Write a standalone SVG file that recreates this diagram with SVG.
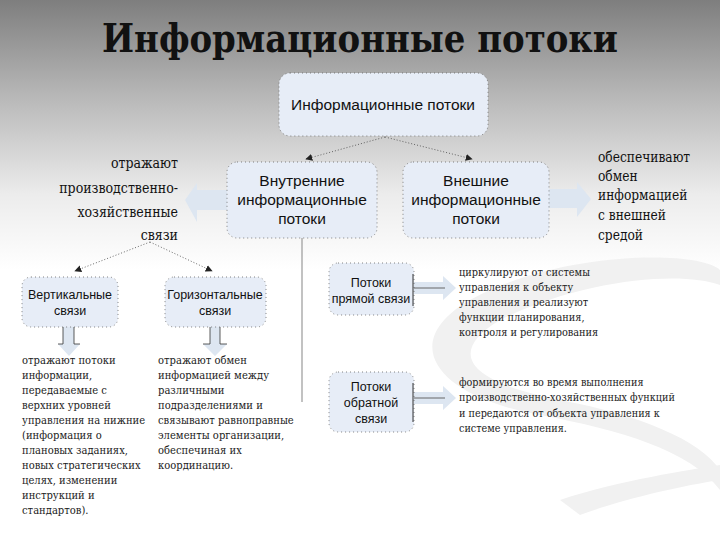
<svg xmlns="http://www.w3.org/2000/svg" width="720" height="540" viewBox="0 0 720 540">
<defs>
<linearGradient id="bg" x1="0" y1="0" x2="0" y2="1">
<stop offset="0" stop-color="#7e7e7e"/>
<stop offset="0.18" stop-color="#b8b8b8"/>
<stop offset="0.36" stop-color="#ececec"/>
<stop offset="0.5" stop-color="#ffffff"/>
<stop offset="1" stop-color="#ffffff"/>
</linearGradient>
<marker id="ah" viewBox="0 0 10 10" refX="9" refY="5" markerWidth="7" markerHeight="7" orient="auto" markerUnits="userSpaceOnUse">
<path d="M0,0 L10,5 L0,10 z" fill="#222"/>
</marker>
<style>
.box{fill:#e7edf7;stroke:#666;stroke-width:0.8;stroke-dasharray:1 3}
.bt{font-family:"Liberation Sans",Arial,sans-serif;fill:#111;text-anchor:middle}
.st{font-family:"DejaVu Serif",serif;fill:#222;font-size:11.5px}
.lt{font-family:"DejaVu Serif",serif;fill:#111;font-size:14px}
.dot{fill:none;stroke:#444;stroke-width:0.8;stroke-dasharray:1 2}
.blk{fill:#dde6f1}
.ln{stroke:#333;stroke-width:0.8;fill:none}
</style>
</defs>
<rect x="0" y="0" width="720" height="540" fill="url(#bg)"/>
<g id="decor" fill="#f1f1f1">
<path d="M470,300 C560,250 700,250 720,270 L720,285 C680,270 580,280 500,320 C450,350 460,380 560,400 C640,415 700,440 720,470 L720,490 C690,450 620,430 540,415 C430,395 400,340 470,300 z"/>
<path d="M560,500 C620,480 690,470 720,465 L720,480 C680,486 620,500 580,515 z"/>
</g>
<text x="360" y="52" text-anchor="middle" font-family="'DejaVu Serif',serif" font-weight="bold" font-size="40" fill="#111" textLength="516" lengthAdjust="spacingAndGlyphs">Информационные потоки</text>
<g id="connectors">
<line class="dot" x1="385" y1="137" x2="306" y2="159" marker-end="url(#ah)"/>
<line class="dot" x1="385" y1="137" x2="472" y2="159" marker-end="url(#ah)"/>
<line class="dot" x1="150" y1="242" x2="75" y2="271" marker-end="url(#ah)"/>
<line class="dot" x1="150" y1="242" x2="212" y2="271" marker-end="url(#ah)"/>
<line x1="302" y1="238" x2="302" y2="402" stroke="#999" stroke-width="1.2"/>
<path class="blk" d="M227,190 L197,190 L197,183 L185,200 L197,222 L197,210 L227,210 z"/>
<path class="blk" d="M549,189 L577,189 L577,182 L591,199 L577,217 L577,208 L549,208 z"/>
<path class="blk" d="M63,327 L74,327 L74,344 L80,344 L69,356 L58,344 L63,344 z"/>
<path class="ln" d="M63,327 L63,344 L58,344 M74,327 L74,344 L80,344"/>
<path class="blk" d="M210,327 L220,327 L220,344 L227,344 L215,356 L203,344 L210,344 z"/>
<path class="ln" d="M210,327 L210,344 L203,344 M220,327 L220,344 L227,344"/>
<path class="blk" d="M414,282 L443,282 L443,276 L456,288 L443,300 L443,294 L414,294 z"/>
<line x1="414" y1="288" x2="445" y2="288" stroke="#666" stroke-width="1"/>
<path class="blk" d="M414,392 L443,392 L443,386 L456,398 L443,410 L443,404 L414,404 z"/>
<line x1="414" y1="398" x2="445" y2="398" stroke="#666" stroke-width="1"/>
</g>
<g id="n-main">
<rect class="box" x="279" y="73" width="209" height="63" rx="11"/>
<text class="bt" x="383" y="110" font-size="15.5">Информационные потоки</text>
</g>
<g id="n-internal">
<rect class="box" x="227" y="162" width="150" height="76" rx="10"/>
<text class="bt" x="302" y="186" font-size="15.5">Внутренние</text>
<text class="bt" x="302" y="205" font-size="15.5">информационные</text>
<text class="bt" x="302" y="224" font-size="15.5">потоки</text>
</g>
<g id="n-external">
<rect class="box" x="403" y="162" width="146" height="76" rx="10"/>
<text class="bt" x="476" y="186" font-size="15.5">Внешние</text>
<text class="bt" x="476" y="205" font-size="15.5">информационные</text>
<text class="bt" x="476" y="224" font-size="15.5">потоки</text>
</g>
<g id="n-vertical">
<rect class="box" x="22" y="277" width="96" height="50" rx="9"/>
<text class="bt" x="70" y="299" font-size="12.5">Вертикальные</text>
<text class="bt" x="70" y="315" font-size="12.5">связи</text>
</g>
<g id="n-horizontal">
<rect class="box" x="165" y="277" width="101" height="50" rx="9"/>
<text class="bt" x="215" y="299" font-size="12.5">Горизонтальные</text>
<text class="bt" x="215" y="315" font-size="12.5">связи</text>
</g>
<g id="n-direct">
<rect class="box" x="329" y="263" width="85" height="52" rx="9"/>
<line x1="413" y1="274" x2="413" y2="306" stroke="#333" stroke-width="1"/>
<text class="bt" x="371" y="287" font-size="12.5">Потоки</text>
<text class="bt" x="371" y="303" font-size="12.5">прямой связи</text>
</g>
<g id="n-feedback">
<rect class="box" x="329" y="372" width="85" height="60" rx="9"/>
<line x1="413" y1="383" x2="413" y2="422" stroke="#333" stroke-width="1"/>
<text class="bt" x="371" y="391" font-size="12.5">Потоки</text>
<text class="bt" x="371" y="407" font-size="12.5">обратной</text>
<text class="bt" x="371" y="423" font-size="12.5">связи</text>
</g>
<g id="t-internal" class="lt" text-anchor="end" transform="translate(178,0) scale(0.9,1)">
<text x="0" y="168">отражают</text>
<text x="0" y="193">производственно-</text>
<text x="0" y="217">хозяйственные</text>
<text x="0" y="240">связи</text>
</g>
<g id="t-external" class="lt" transform="translate(598,0) scale(0.875,1)">
<text x="0" y="162">обеспечивают</text>
<text x="0" y="181">обмен</text>
<text x="0" y="200">информацией</text>
<text x="0" y="220">с внешней</text>
<text x="0" y="240">средой</text>
</g>
<g id="t-vertical" class="st" transform="translate(22,0) scale(0.87,1)">
<text x="0" y="364">отражают потоки</text>
<text x="0" y="379">информации,</text>
<text x="0" y="394">передаваемые с</text>
<text x="0" y="409">верхних уровней</text>
<text x="0" y="424">управления на нижние</text>
<text x="0" y="439">(информация о</text>
<text x="0" y="454">плановых заданиях,</text>
<text x="0" y="469">новых стратегических</text>
<text x="0" y="484">целях, изменении</text>
<text x="0" y="499">инструкций и</text>
<text x="0" y="514">стандартов).</text>
</g>
<g id="t-horizontal" class="st" transform="translate(158,0) scale(0.87,1)">
<text x="0" y="364">отражают обмен</text>
<text x="0" y="379">информацией между</text>
<text x="0" y="394">различными</text>
<text x="0" y="409">подразделениями и</text>
<text x="0" y="424">связывают равноправные</text>
<text x="0" y="439">элементы организации,</text>
<text x="0" y="454">обеспечиная их</text>
<text x="0" y="469">координацию.</text>
</g>
<g id="t-direct" class="st" transform="translate(459,0) scale(0.85,1)">
<text x="0" y="276">циркулируют от системы</text>
<text x="0" y="291">управления к объекту</text>
<text x="0" y="306">управления и реализуют</text>
<text x="0" y="321">функции планирования,</text>
<text x="0" y="336">контроля и регулирования</text>
</g>
<g id="t-feedback" class="st" transform="translate(459,0) scale(0.84,1)">
<text x="0" y="386">формируются во время выполнения</text>
<text x="0" y="401">производственно-хозяйственных функций</text>
<text x="0" y="417">и передаются от объекта управления к</text>
<text x="0" y="432">системе управления.</text>
</g>
</svg>
